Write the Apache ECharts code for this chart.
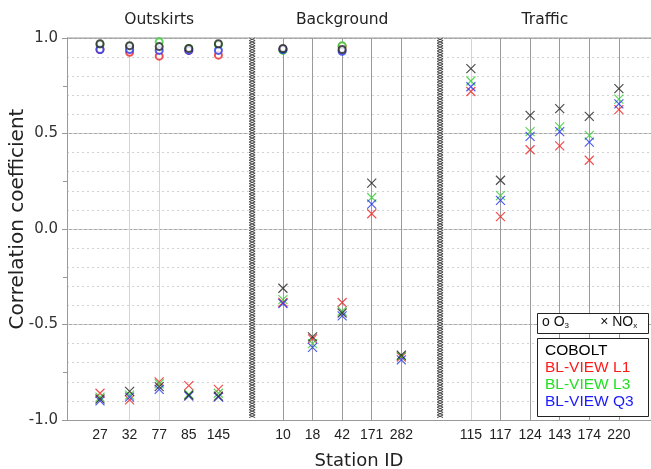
<!DOCTYPE html>
<html>
<head>
<meta charset="utf-8">
<script src="https://cdn.jsdelivr.net/npm/echarts@6/dist/echarts.min.js"></script>
<style>html,body{margin:0;padding:0;background:#fff}#c{width:651px;height:469px}</style>
</head>
<body>
<div id="c"></div>
<script>
// ---- data ----
const groupNames = ['Outskirts', 'Background', 'Traffic'];
const stationsOut = ['27', '32', '77', '85', '145'];
const stationsBg = ['10', '18', '42', '171', '282'];
const stationsTr = ['115', '117', '124', '143', '174', '220'];
const modelNames = ['COBOLT', 'BL-VIEW L1', 'BL-VIEW L3', 'BL-VIEW Q3'];
const yTicks = [-1.0, -0.5, 0.0, 0.5, 1.0];
const yTitle = 'Correlation coefficient';
const xTitle = 'Station ID';

// O3 correlation (order: outskirts, background, traffic stations)
const o3Cobolt = [0.97, 0.96, 0.955, 0.945, 0.97,   0.945, null, 0.94, null, null,   null, null, null, null, null, null];
const o3L1     = [0.94, 0.925, 0.905, 0.935, 0.91,  0.94, null, 0.955, null, null,   null, null, null, null, null, null];
const o3L3     = [0.965, 0.955, 0.98, 0.945, 0.965, 0.935, null, 0.96, null, null,   null, null, null, null, null, null];
const o3Q3     = [0.94, 0.94, 0.935, 0.935, 0.935,  0.94, null, 0.93, null, null,    null, null, null, null, null, null];
// NOx correlation
const noxCobolt = [-0.89, -0.85, -0.825, -0.87, -0.875,  -0.31, -0.565, -0.44, 0.24, -0.66,   0.84, 0.255, 0.595, 0.63, 0.59, 0.735];
const noxL1     = [-0.86, -0.895, -0.80, -0.82, -0.84,   -0.385, -0.575, -0.385, 0.08, -0.67, 0.72, 0.065, 0.415, 0.435, 0.36, 0.625];
const noxL3     = [-0.88, -0.87, -0.81, -0.865, -0.86,   -0.37, -0.60, -0.43, 0.165, -0.665,  0.775, 0.175, 0.51, 0.535, 0.49, 0.68];
const noxQ3     = [-0.90, -0.88, -0.84, -0.875, -0.88,   -0.39, -0.62, -0.455, 0.13, -0.685, 0.745, 0.15, 0.485, 0.51, 0.455, 0.655];

// ---- layout (axis positions, not data) ----
const groupStart = [0, 6.18, 12.53];
const dividerPos = [5.14, 11.49];
const xMin = -1.115, xMax = 18.615;
const faintLines = ['32', '77', '115'];
const noLines = ['27', '85', '145'];
const modelColors = ['#222222', '#ee2222', '#33cc33', '#2233ee'];

const groups = [stationsOut, stationsBg, stationsTr];
const stations = [];
groups.forEach((g, gi) => g.forEach((s, i) => stations.push({ name: s, pos: groupStart[gi] + i })));
const groupCenters = groups.map((g, gi) => [groupStart[gi] + (g.length - 1) / 2, gi]);

function pts(vals) {
  return stations.map((s, i) => vals[i] == null ? null : [s.pos, vals[i]]).filter(d => d);
}

const crossPath = 'path://M0,0L10,10M10,0L0,10';
const o3Sets = [o3Cobolt, o3L1, o3L3, o3Q3];
const noxSets = [noxCobolt, noxL1, noxL3, noxQ3];
const drawOrder = [1, 2, 3, 0];

const series = [];

// station labels
series.push({
  type: 'custom', clip: false, silent: true, z: 1,
  data: stations.map((s, i) => [s.pos, i]),
  renderItem(params, api) {
    const s = stations[api.value(1)];
    const bot = api.coord([s.pos, -1]);
    return { type: 'text', x: bot[0], y: bot[1] + 15,
      style: { text: s.name, align: 'center', verticalAlign: 'middle', fill: '#222', font: '14px "Liberation Sans", sans-serif' } };
  }
});

// station vertical lines
series.push({
  type: 'line', silent: true, data: [], z: 1,
  markLine: {
    silent: true, symbol: 'none', label: { show: false }, animation: false,
    data: stations.filter(s => noLines.indexOf(s.name) < 0).map(s => ({
      xAxis: s.pos,
      lineStyle: { type: 'solid', width: 1, color: faintLines.indexOf(s.name) >= 0 ? '#d4d4d4' : '#9a9a9a' }
    }))
  }
});

// dividers
series.push({
  type: 'custom', clip: false, silent: true, z: 3,
  data: dividerPos.map(p => [p, 0]),
  renderItem(params, api) {
    const x = api.value(0);
    const top = api.coord([x, 1]);
    const bot = api.coord([x, -1]);
    const a = [], b = [];
    let k = 0;
    for (let y = top[1]; y <= bot[1]; y += 2.6, k++) {
      const off = (k % 2 === 0) ? -3 : 3;
      a.push([top[0] + off, y]);
      b.push([top[0] - off, y]);
    }
    return { type: 'group', children: [
      { type: 'rect', shape: { x: top[0] - 3.5, y: top[1], width: 7, height: bot[1] - top[1] }, style: { fill: '#fff' } },
      { type: 'polyline', shape: { points: a }, style: { stroke: '#3a3a3a', lineWidth: 0.9, fill: null } },
      { type: 'polyline', shape: { points: b }, style: { stroke: '#3a3a3a', lineWidth: 0.9, fill: null } }
    ] };
  }
});

// group titles
series.push({
  type: 'custom', clip: false, silent: true, z: 1,
  data: groupCenters,
  renderItem(params, api) {
    const c = api.coord([api.value(0), 1]);
    return { type: 'text', x: c[0], y: c[1] - 18,
      style: { text: groupNames[api.value(1)], align: 'center', verticalAlign: 'middle', fill: '#222', font: '15.5px "DejaVu Sans", sans-serif' } };
  }
});

drawOrder.forEach(mi => {
  series.push({
    name: modelNames[mi] + ' O3', type: 'scatter', z: 5,
    symbol: 'emptyCircle', symbolSize: 7,
    itemStyle: { color: modelColors[mi], borderColor: modelColors[mi], borderWidth: 1 },
    data: pts(o3Sets[mi])
  });
});
drawOrder.forEach(mi => {
  series.push({
    name: modelNames[mi] + ' NOx', type: 'scatter', z: 5,
    symbol: crossPath, symbolSize: 9,
    itemStyle: { color: 'transparent', borderColor: modelColors[mi], borderWidth: 1.2 },
    data: pts(noxSets[mi])
  });
});

const legendItems = modelNames.map((m, i) => ({
  type: 'text', left: 545, top: 343 + i * 17,
  style: { text: m, fill: ['#000000', '#ff1a1a', '#22e022', '#1a1aff'][i], font: '15.5px "Liberation Sans", sans-serif' }
}));

const chart = echarts.init(document.getElementById('c'), null, { renderer: 'canvas' });
chart.setOption({
  backgroundColor: '#fff',
  animation: false,
  grid: { left: 67, right: 0, top: 38, bottom: 49, containLabel: false, outerBoundsMode: 'none' },
  xAxis: {
    type: 'value', min: xMin, max: xMax,
    name: xTitle, nameLocation: 'middle', nameGap: 32,
    nameTextStyle: { fontSize: 18, color: '#222', fontFamily: 'DejaVu Sans' },
    axisLine: { show: true, onZero: false, lineStyle: { color: '#999' } },
    axisTick: { show: false }, axisLabel: { show: false }, splitLine: { show: false }
  },
  yAxis: [{
    type: 'value', min: yTicks[0], max: yTicks[yTicks.length - 1], interval: 0.5,
    axisLine: { show: true, onZero: false, lineStyle: { color: '#999' } },
    axisTick: { show: true, length: 5, lineStyle: { color: '#999' } },
    minorTick: { show: true, splitNumber: 2, length: 4, lineStyle: { color: '#999' } },
    axisLabel: { formatter: v => v.toFixed(1), color: '#333', fontSize: 15, fontFamily: 'DejaVu Sans', margin: 9 },
    splitLine: { show: true, lineStyle: { color: '#aaaaaa', width: 1 } }
  }, {
    type: 'value', min: -1, max: 1, interval: 0.1, position: 'left',
    axisLine: { show: false, onZero: false }, axisTick: { show: false }, axisLabel: { show: false },
    splitLine: { show: true, lineStyle: { color: '#d2d2d2', type: [2, 3], width: 1 } }
  }],
  graphic: [
    { type: 'text', x: 18, y: 219, rotation: Math.PI / 2, z: 10,
      style: { text: yTitle, align: 'center', verticalAlign: 'middle', fill: '#222', font: '20px "DejaVu Sans", sans-serif' } },
    { type: 'line', shape: { x1: 67, y1: 38, x2: 651, y2: 38 }, style: { stroke: '#999', lineWidth: 1 }, z: 2 },
    { type: 'rect', shape: { x: 537.5, y: 313.5, width: 111, height: 20 }, style: { fill: '#fff', stroke: '#222', lineWidth: 1 }, z: 20 },
    { type: 'text', left: 542, top: 315, z: 21,
      style: { text: 'o O{s|3}        × NO{s|x}', fill: '#111', font: '14px "Liberation Sans", sans-serif',
        rich: { s: { fontSize: 8, padding: [8, 0, 0, 0], fill: '#111' } } } },
    { type: 'rect', shape: { x: 537.5, y: 338.5, width: 111, height: 78 }, style: { fill: '#fff', stroke: '#222', lineWidth: 1 }, z: 20 }
  ].concat(legendItems.map(t => Object.assign(t, { z: 21 }))),
  series
});
</script>
</body>
</html>
